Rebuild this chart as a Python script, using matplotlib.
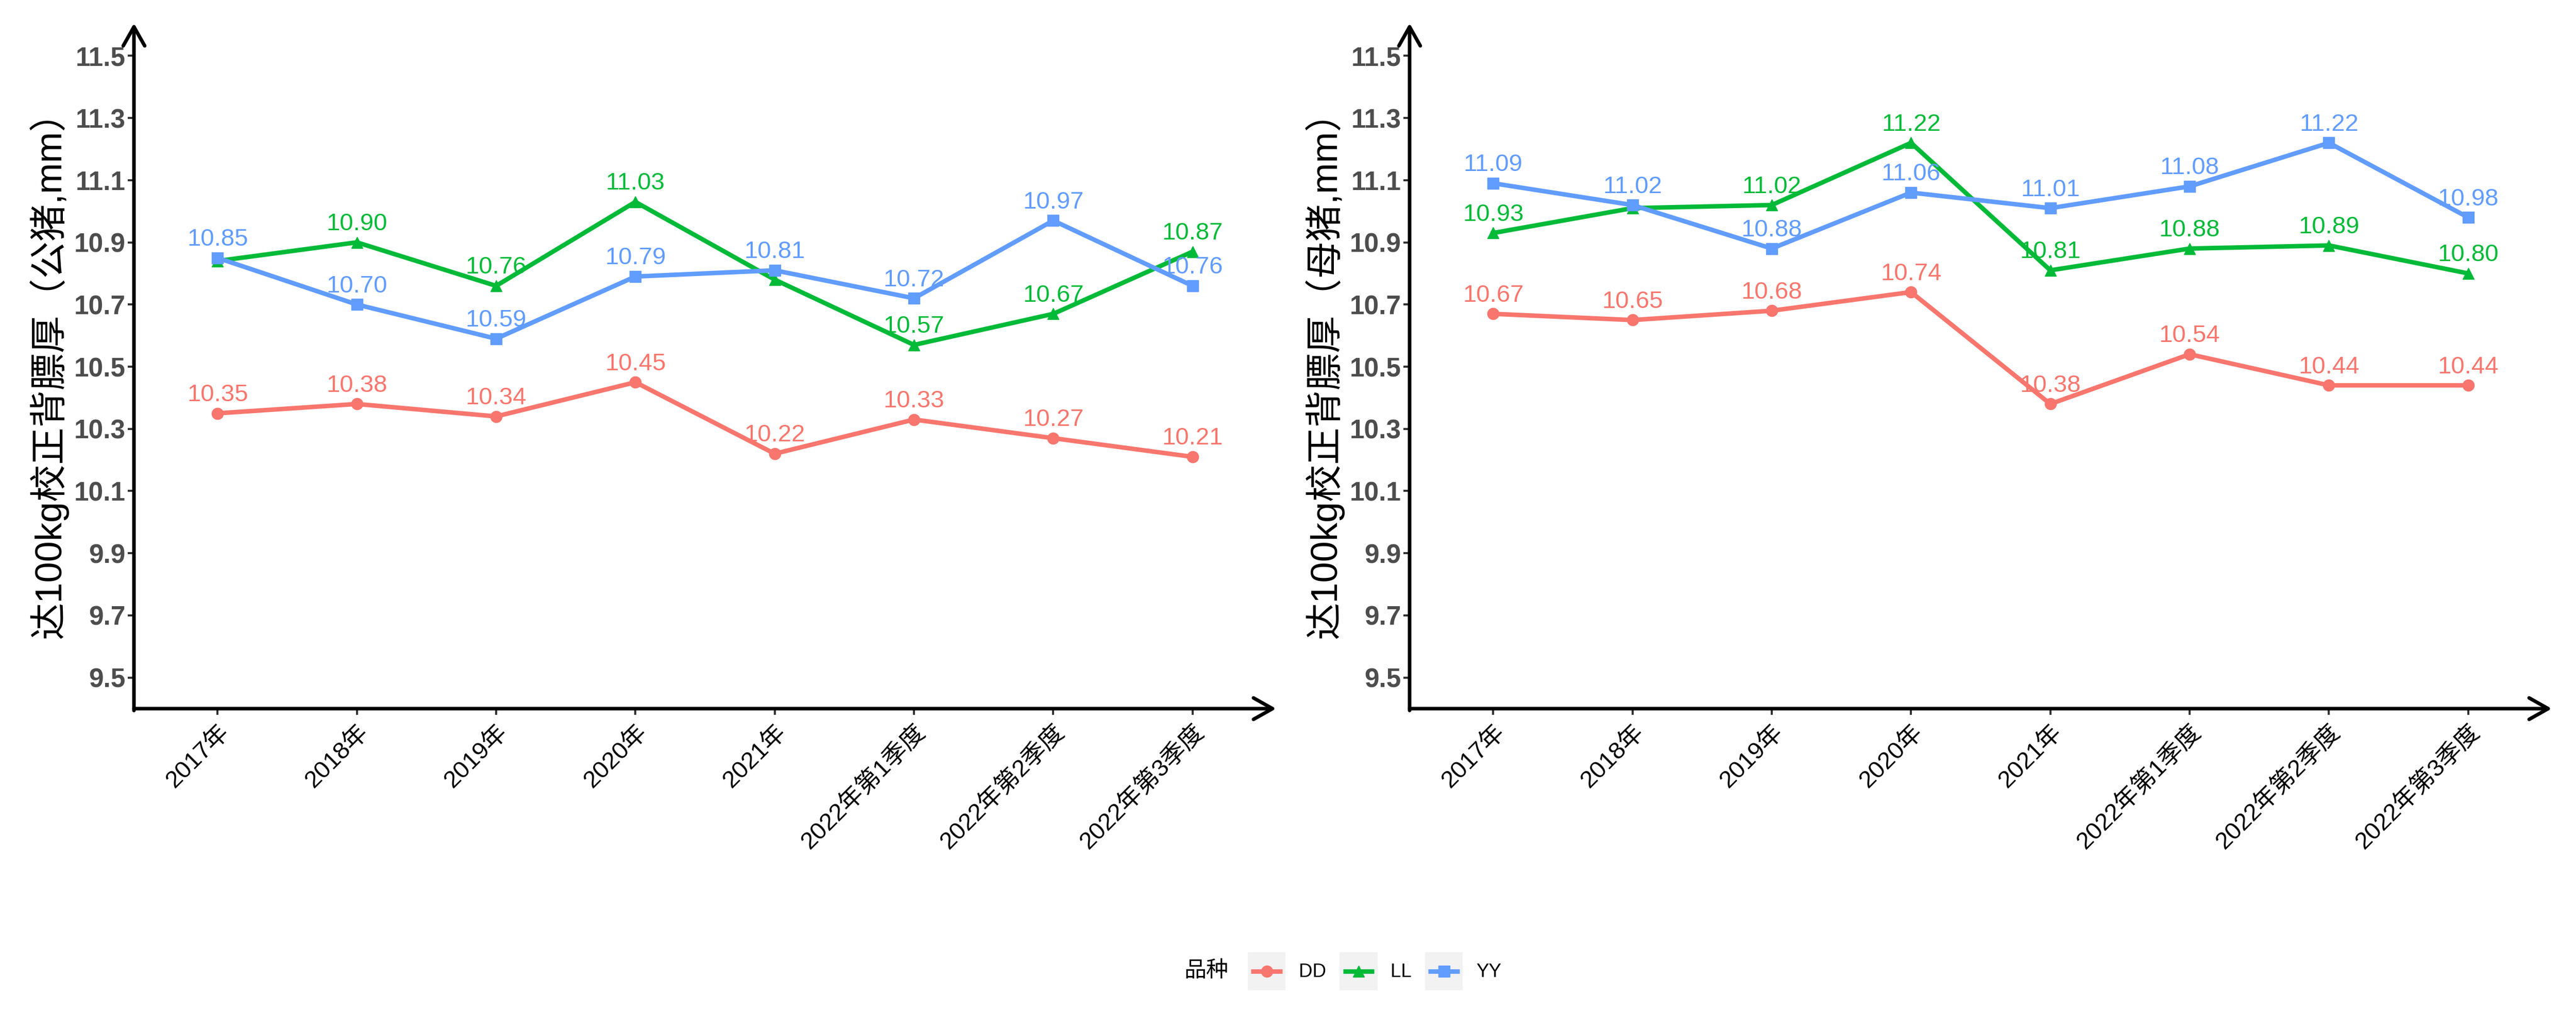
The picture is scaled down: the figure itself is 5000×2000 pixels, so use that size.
import matplotlib.pyplot as plt
from matplotlib.lines import Line2D
from matplotlib.patches import Rectangle
from matplotlib.legend_handler import HandlerBase

plt.rcParams['font.family'] = ['Liberation Sans', 'Noto Sans CJK SC']

# -------------------------------
# Données
# -------------------------------
periods = ["2017年", "2018年", "2019年", "2020年", "2021年",
           "2022年第1季度", "2022年第2季度", "2022年第3季度"]
breeds = ["DD", "LL", "YY"]
colors = {"DD": "#F8766D", "LL": "#00BA38", "YY": "#619CFF"}
markers = {"DD": "o", "LL": "^", "YY": "s"}

# 公猪
boar_DD = [10.35, 10.38, 10.34, 10.45, 10.22, 10.33, 10.27, 10.21]
boar_LL = [10.84, 10.90, 10.76, 11.03, 10.78, 10.57, 10.67, 10.87]
boar_YY = [10.85, 10.70, 10.59, 10.79, 10.81, 10.72, 10.97, 10.76]
# 母猪
sow_DD = [10.67, 10.65, 10.68, 10.74, 10.38, 10.54, 10.44, 10.44]
sow_LL = [10.93, 11.01, 11.02, 11.22, 10.81, 10.88, 10.89, 10.80]
sow_YY = [11.09, 11.02, 10.88, 11.06, 11.01, 11.08, 11.22, 10.98]

# labels masqués (chevauchement dans l'original)
boar_show = {"DD": [1] * 8, "LL": [0, 1, 1, 1, 0, 1, 1, 1], "YY": [1] * 8}
sow_show = {"DD": [1] * 8, "LL": [1, 0, 1, 1, 1, 1, 1, 1], "YY": [1] * 8}

y_ticks = [9.5, 9.7, 9.9, 10.1, 10.3, 10.5, 10.7, 10.9, 11.1, 11.3, 11.5]

panels = [
    ("达100kg校正背膘厚（公猪,mm）", {"DD": boar_DD, "LL": boar_LL, "YY": boar_YY}, boar_show, 260),
    ("达100kg校正背膘厚（母猪,mm）", {"DD": sow_DD, "LL": sow_LL, "YY": sow_YY}, sow_show, 2736),
]

LW = 6.3
MS = 16


class KeyHandler(HandlerBase):
    # clé façon ggplot : fond gris + ligne + point centrés
    def create_artists(self, legend, orig_handle, xdescent, ydescent, width, height, fontsize, trans):
        x0, y0 = -xdescent, -ydescent
        bg = Rectangle((x0, y0), width, height, facecolor='#F2F2F2', edgecolor='none', transform=trans)
        yc = y0 + height / 2
        inset = width * 0.09
        ln = Line2D([x0 + inset, x0 + width - inset], [yc, yc], color=orig_handle.get_color(),
                    lw=orig_handle.get_linewidth(), solid_capstyle='butt', transform=trans)
        mk = Line2D([x0 + width / 2], [yc], color=orig_handle.get_color(), linestyle='none',
                    marker=orig_handle.get_marker(), ms=orig_handle.get_markersize(), transform=trans)
        return [bg, ln, mk]


# -------------------------------
# Graphe
# -------------------------------
W, H = 5000, 2000
fig = plt.figure(figsize=(50, 20), dpi=100)

x = list(range(len(periods)))
for ylabel, series, show, x0 in panels:
    ax = fig.add_axes([x0 / W, 1 - 1376 / H, 2217 / W, (1376 - 45) / H])
    for b in breeds:
        vals = series[b]
        ax.plot(x, vals, color=colors[b], lw=LW, marker=markers[b], ms=MS, zorder=3)
        for i, v in enumerate(vals):
            if show[b][i]:
                ax.annotate(f"{v:.2f}", (i, v), xytext=(0, 17), textcoords='offset points',
                            ha='center', va='baseline', fontsize=34, color=colors[b], zorder=4)
    ax.set_xlim(-0.6, 7.6)
    ax.set_ylim(9.40, 11.605)
    ax.set_xticks(x)
    ax.set_xticklabels(periods, rotation=45, ha='right', va='top', rotation_mode='anchor',
                       fontsize=34, color='black')
    ax.set_yticks(y_ticks)
    ax.set_yticklabels([f"{t:.1f}" for t in y_ticks], fontsize=37, fontweight='bold', color='#4D4D4D')
    ax.tick_params(axis='both', length=8.6, width=2.9, color='#333333')
    ax.tick_params(axis='y', pad=3)
    ax.tick_params(axis='x', pad=8)
    for s in ax.spines.values():
        s.set_visible(False)
    arrow = dict(arrowstyle='->,head_length=26.6,head_width=15', mutation_scale=1,
                 lw=5, color='black', shrinkA=0, shrinkB=0)
    ax.annotate('', xy=(0, 1), xytext=(0, -0.0027), xycoords='axes fraction', arrowprops=arrow)
    ax.annotate('', xy=(1, 0), xytext=(0, 0), xycoords='axes fraction', arrowprops=arrow)
    ax.set_ylabel(ylabel, fontsize=52, labelpad=8, color='black')

# -------------------------------
# Légende
# -------------------------------
handles = [Line2D([], [], color=colors[b], lw=LW, marker=markers[b], ms=MS) for b in breeds]
fig.legend(handles, breeds, handler_map={Line2D: KeyHandler()},
           loc='center', bbox_to_anchor=(2668 / W, 1 - 1886 / H), ncol=3, frameon=False,
           fontsize=26.5, handlelength=2.0, handleheight=2.7, handletextpad=0.7,
           columnspacing=0.7, borderpad=0)
fig.text(2341 / W, 1 - 1886 / H, "品种", fontsize=31, ha='center', va='center')

fig.savefig("out.png", dpi=100)
